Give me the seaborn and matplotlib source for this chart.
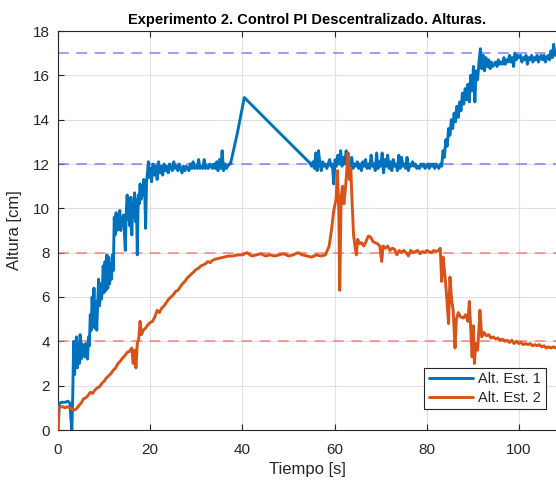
import matplotlib
matplotlib.use("Agg")
import matplotlib.pyplot as plt
import seaborn as sns
import pandas as pd

# ---------------- data ----------------
t1 = [0, 0.3, 0.8, 1.5, 2.2, 2.6, 2.8, 3.0, 3.2, 3.4, 3.6, 3.8, 4.0, 4.2, 4.4, 4.6, 4.8, 5.0, 5.2, 5.4,
      5.6, 5.8, 6.0, 6.2, 6.4, 6.6, 6.8, 7.0, 7.2, 7.4, 7.6, 7.8, 8.0, 8.2, 8.4, 8.6, 8.8, 9.0, 9.2, 9.4,
      9.6, 9.8, 10.0, 10.2, 10.4, 10.6, 10.8, 11.0, 11.2, 11.4, 11.6, 11.8, 12.0, 12.2, 12.4, 12.6, 12.8,
      13.0, 13.2, 13.4, 13.6, 13.8, 14.0, 14.2, 14.4, 14.6, 14.8, 15.0, 15.2, 15.4, 15.6, 15.8, 16.0, 16.2,
      16.4, 16.6, 16.8, 17.0, 17.2, 17.4, 17.6, 17.8, 18.0, 18.2, 18.4, 18.6, 18.8, 19.0, 19.2, 19.4, 19.6,
      19.8, 20.0, 20.3, 20.6, 20.9, 21.2, 21.5, 21.8, 22.1, 22.4, 22.7, 23.0, 23.3, 23.6, 23.9, 24.2, 24.5,
      24.8, 25.1, 25.4, 25.7, 26.0, 26.3, 26.6, 26.9, 27.2, 27.5, 27.8, 28.1, 28.4, 28.7, 29.0, 29.3, 29.6,
      29.9, 30.2, 30.5, 30.8, 31.1, 31.4, 31.7, 32.0, 32.3, 32.6, 32.9, 33.2, 33.5, 33.8, 34.1, 34.4, 34.7,
      35.0, 35.3, 35.6, 35.9, 36.2, 36.5, 36.8, 37.1, 37.4, 38.9, 40.4, 47.5, 54.6,
      55.0, 55.3, 55.6, 55.9, 56.2, 56.5, 56.8, 57.1, 57.4, 57.7, 58.0, 58.3,
      58.6, 58.9, 59.2, 59.5, 59.8, 60.1, 60.4, 60.7, 61.0, 61.3, 61.6, 61.9, 62.2, 62.5, 62.8, 63.1, 63.4,
      63.7, 64.0, 64.3, 64.6, 64.9, 65.2, 65.5, 65.8, 66.1, 66.4, 66.7, 67.0, 67.3, 67.6, 67.9, 68.2, 68.5,
      68.8, 69.1, 69.4, 69.7, 70.0, 70.3, 70.6, 70.9, 71.2, 71.5, 71.8, 72.1, 72.4, 72.7, 73.0, 73.3, 73.6,
      73.9, 74.2, 74.5, 74.8, 75.1, 75.4, 75.7, 76.0, 76.3, 76.6, 76.9, 77.2, 77.5, 77.8, 78.1, 78.4, 78.7,
      79.0, 79.3, 79.6, 79.9, 80.2, 80.5, 80.8, 81.1, 81.4, 81.7, 82.0, 82.3, 82.6, 82.9, 83.2, 83.5, 83.8,
      84.1, 84.4, 84.7, 85.0, 85.3, 85.6, 85.9, 86.2, 86.5, 86.8, 87.1, 87.4, 87.7, 88.0, 88.3, 88.6, 88.9,
      89.2, 89.5, 89.8, 90.1, 90.4, 90.7, 91.0, 91.3, 91.6, 91.9, 92.2, 92.5, 92.8, 93.1, 93.4, 93.7, 94.0,
      94.3, 94.6, 94.9, 95.2, 95.5, 95.8, 96.1, 96.4, 96.7, 97.0, 97.3, 97.6, 97.9, 98.2, 98.5, 98.8, 99.1,
      99.4, 99.7, 100.0, 100.3, 100.6, 100.9, 101.2, 101.5, 101.8, 102.1, 102.4, 102.7, 103.0, 103.3, 103.6,
      103.9, 104.2, 104.5, 104.8, 105.1, 105.4, 105.7, 106.0, 106.3, 106.6, 106.9, 107.2, 107.5, 107.8, 108.1]
h1 = [0, 1.2, 1.25, 1.25, 1.3, 1.2, 0.5, 0.0, 1.6, 4.0, 2.5, 3.6, 4.2, 2.8, 3.9, 3.0, 4.3, 3.2, 3.9, 3.4,
      3.7, 3.3, 3.9, 3.4, 3.2, 4.2, 3.8, 5.2, 4.5, 6.0, 5.0, 6.4, 4.6, 5.8, 4.5, 5.6, 6.8, 5.6, 6.6, 5.9,
      6.2, 7.4, 6.2, 7.6, 6.3, 7.9, 6.4, 7.8, 6.6, 7.5, 6.8, 7.9, 7.2, 9.6, 8.8, 9.8, 9.0,
      9.5, 9.2, 9.9, 9.0, 9.6, 9.3, 9.7, 8.9, 8.1, 9.8, 10.6, 9.5, 10.3, 9.2, 10.5, 8.8, 10.2,
      9.6, 10.7, 9.4, 10.4, 7.9, 10.6, 10.2, 11.1, 10.4, 10.9, 10.6, 11.3, 10.8, 9.1, 11.2, 11.6, 12.1,
      11.4, 11.8, 11.2, 12.0, 11.5, 11.9, 11.3, 12.1, 11.6, 11.9, 11.5, 12.0, 11.7, 11.9, 11.6, 12.0, 11.8,
      11.7, 12.1, 11.8, 11.9, 11.7, 12.0, 11.8, 11.6, 11.9, 11.7, 11.9, 11.8, 11.7, 12.0, 11.8, 12.1, 11.8,
      11.9, 11.8, 12.2, 11.8, 11.9, 11.8, 12.2, 11.8, 11.9, 11.8, 12.0, 11.9, 11.8, 12.0, 11.8, 12.1, 11.7,
      12.2, 11.8, 12.6, 11.7, 12.0, 11.8, 11.9, 12.0, 12.0, 13.4, 15.0, 13.52, 12.05,
      11.9, 12.1, 11.8, 12.5, 11.7, 12.6, 12.0, 11.7, 12.1, 11.9, 12.0, 11.8,
      12.0, 12.2, 11.9, 12.0, 11.1, 12.2, 11.9, 12.4, 12.0, 12.6, 11.9, 12.3, 12.0, 12.6, 11.8, 12.1, 11.9,
      12.3, 11.8, 12.0, 11.9, 12.1, 11.8, 12.0, 11.7, 12.1, 11.9, 12.2, 11.8, 12.0, 11.8, 12.4, 11.9, 12.0,
      11.7, 12.5, 11.8, 12.1, 11.9, 12.5, 11.6, 12.2, 11.9, 12.4, 11.8, 12.1, 11.7, 12.2, 11.9, 12.0, 11.7,
      12.4, 11.8, 12.3, 11.9, 12.0, 11.8, 12.3, 11.7, 12.0, 11.9, 12.1, 11.9, 12.0, 11.8, 11.9, 11.8, 12.0,
      11.9, 12.0, 11.8, 11.9, 12.0, 11.8, 12.0, 11.9, 12.0, 11.8, 12.0, 11.9, 11.8, 12.0, 11.9, 12.6, 12.3,
      13.1, 12.8, 13.6, 13.3, 14.0, 13.6, 14.3, 13.9, 14.6, 14.1, 14.8, 14.4, 15.2, 14.7, 15.4, 14.9, 15.6,
      14.8, 16.0, 15.3, 16.4, 14.8, 16.2, 15.8, 16.6, 17.2, 16.3, 16.9, 16.2, 16.8, 16.4, 16.7, 16.3, 16.6,
      16.4, 16.5, 16.6, 16.4, 16.7, 16.5, 16.6, 16.5, 16.8, 16.5, 16.7, 16.6, 16.9, 16.6, 16.8, 16.4, 17.0,
      16.7, 16.9, 16.8, 16.9, 16.6, 16.8, 16.7, 16.9, 16.5, 16.8, 16.7, 16.9, 16.6, 16.8, 16.7,
      16.9, 16.6, 16.8, 16.9, 16.7, 16.9, 16.6, 16.8, 16.9, 16.7, 17.1, 16.8, 17.4, 16.9, 17.0]

t2 = [0, 0.2, 0.5, 1.0, 1.5, 2.0, 2.5, 3.0, 3.5, 4.0, 4.5, 5.0, 5.5, 6.0, 6.5, 7.0, 7.5, 8.0, 8.5, 9.0,
      9.5, 10.0, 10.5, 11.0, 11.5, 12.0, 12.5, 13.0, 13.5, 14.0, 14.5, 15.0, 15.5, 16.0, 16.3, 16.6, 16.9,
      17.2, 17.5, 17.8, 18.1, 18.5, 19.0, 19.5, 20.0, 20.5, 21.0, 21.5, 22.0, 22.5, 23.0, 23.5, 24.0, 24.5,
      25.0, 25.5, 26.0, 26.5, 27.0, 27.5, 28.0, 28.5, 29.0, 29.5, 30.0, 30.5, 31.0, 31.5, 32.0, 32.5, 33.0,
      33.5, 34.0, 35.0, 36.0, 37.0, 38.0, 39.0, 40.0, 41.0, 42.0, 43.0, 44.0, 45.0, 46.0, 47.0, 48.0, 49.0,
      50.0, 51.0, 52.0, 53.0, 54.0, 55.0, 56.0, 57.0, 58.0, 58.8, 59.3, 59.8, 60.3, 60.6, 60.9, 61.1, 61.4,
      61.7, 62.0, 62.3, 62.6, 62.9, 63.2, 63.5, 63.8, 64.1, 64.4, 64.7, 65.0, 65.4, 65.8, 66.3, 66.8, 67.3,
      67.8, 68.3, 68.8, 69.3, 69.8, 70.2, 70.5, 71.0, 71.5, 72.0, 72.5, 73.0, 73.5, 74.0, 74.5, 75.0, 75.5,
      76.0, 76.5, 77.0, 77.5, 78.0, 78.5, 79.0, 79.5, 80.0, 80.5, 81.0, 81.5, 82.0, 82.5, 82.9, 83.2, 83.5,
      83.9, 84.3, 84.7, 85.0, 85.4, 85.7, 86.1, 86.4, 86.8, 87.3, 87.9, 88.4, 88.9, 89.2, 89.5, 89.8, 90.1,
      90.3, 90.6, 91.0, 91.3, 91.5, 91.9, 92.4, 92.9, 93.4, 93.9, 94.4, 94.9, 95.4, 95.9, 96.4, 96.9, 97.4,
      97.9, 98.4, 98.9, 99.4, 99.9, 100.4, 100.9, 101.4, 101.9, 102.4, 102.9, 103.4, 103.9, 104.4, 104.9,
      105.4, 105.9, 106.4, 106.9, 107.4, 108.0]
h2 = [0, 1.0, 1.05, 1.05, 1.0, 1.05, 1.0, 0.95, 0.9, 0.95, 1.1, 1.2, 1.4, 1.45, 1.55, 1.7, 1.65, 1.8, 1.9, 1.95,
      2.1, 2.2, 2.35, 2.45, 2.55, 2.7, 2.8, 3.0, 3.1, 3.25, 3.35, 3.5, 3.55, 3.7, 3.0, 3.6, 2.8,
      3.9, 4.1, 4.9, 4.3, 4.5, 4.6, 4.75, 4.85, 4.9, 5.1, 5.4, 5.3, 5.5, 5.6, 5.75, 5.9, 6.0,
      6.1, 6.25, 6.3, 6.45, 6.6, 6.7, 6.85, 6.95, 7.05, 7.15, 7.25, 7.3, 7.4, 7.45, 7.5, 7.6, 7.55,
      7.65, 7.7, 7.75, 7.8, 7.85, 7.85, 7.9, 7.9, 8.0, 7.85, 7.9, 7.95, 7.85, 7.9, 7.85, 7.9, 7.95,
      7.85, 7.9, 8.0, 7.9, 7.85, 7.8, 7.9, 7.85, 7.9, 8.3, 9.0, 9.9, 10.4, 11.7, 9.8, 6.3, 10.5,
      11.0, 10.2, 10.8, 11.6, 12.5, 11.3, 11.8, 10.2, 8.8, 8.3, 7.9, 8.6, 8.4, 8.45, 8.3, 8.5, 8.75,
      8.7, 8.5, 8.45, 8.4, 8.3, 7.6, 8.3, 8.2, 8.3, 8.1, 8.2, 8.15, 7.9, 8.1, 8.0, 8.1, 8.0,
      7.85, 8.1, 8.0, 8.05, 8.1, 7.95, 8.05, 8.0, 8.1, 8.05, 8.0, 8.1, 8.05, 8.1, 8.2, 6.7, 7.8,
      7.0, 6.0, 4.8, 6.9, 5.8, 5.4, 3.7, 5.0, 5.3, 5.1, 5.05, 5.2, 4.9, 5.8, 4.6, 3.3, 4.7,
      3.0, 3.9, 3.6, 4.6, 5.4, 4.2, 4.4, 4.25, 4.3, 4.15, 4.2, 4.1, 4.15, 4.05, 4.1, 4.0, 4.05,
      3.95, 4.05, 3.9, 4.0, 3.9, 3.95, 3.85, 3.9, 3.85, 3.9, 3.8, 3.85, 3.8, 3.85, 3.75,
      3.8, 3.7, 3.75, 3.7, 3.75, 3.7]

series_names = ["Alt. Est. 1", "Alt. Est. 2"]
ref_levels_1 = [17, 12]
ref_levels_2 = [8, 4]
title = "Experimento 2. Control PI Descentralizado. Alturas."
xlabel = "Tiempo [s]"
ylabel = "Altura [cm]"
xticks = [0, 20, 40, 60, 80, 100]
yticks = [0, 2, 4, 6, 8, 10, 12, 14, 16, 18]

# ---------------- style ----------------
sns.set_style("white")
plt.rcParams["font.family"] = ["Liberation Sans", "DejaVu Sans"]

C_BLUE = "#0072BD"
C_ORANGE = "#D95319"
AX_COL = "#262626"

fig = plt.figure(figsize=(5.56, 4.80), dpi=100)
ax = fig.add_axes([58 / 556, 1 - 430 / 480, 1 - 58 / 556, (430 - 31) / 480])

df1 = pd.DataFrame({"t": t1, "h": h1})
df2 = pd.DataFrame({"t": t2, "h": h2})

for lvl in ref_levels_1:
    ax.axhline(lvl, color=(0.45, 0.45, 1.0), lw=1.1, ls=(0, (7, 5)), alpha=0.9, zorder=1)
for lvl in ref_levels_2:
    ax.axhline(lvl, color=(1.0, 0.45, 0.45), lw=1.1, ls=(0, (7, 5)), alpha=0.9, zorder=1)

sns.lineplot(data=df1, x="t", y="h", ax=ax, color=C_BLUE, lw=2.1, sort=False,
             estimator=None, label=series_names[0], zorder=3)
sns.lineplot(data=df2, x="t", y="h", ax=ax, color=C_ORANGE, lw=2.1, sort=False,
             estimator=None, label=series_names[1], zorder=3)

ax.set_xlim(0, 108)
ax.set_ylim(0, 18)
ax.set_xticks(xticks)
ax.set_yticks(yticks)
ax.grid(True, color="#e0e0e0", lw=0.8)
ax.set_axisbelow(True)

for side in ["left", "bottom", "top"]:
    ax.spines[side].set_color(AX_COL)
    ax.spines[side].set_linewidth(0.8)
ax.spines["right"].set_visible(False)
ax.tick_params(direction="in", length=4, width=0.8, colors=AX_COL, labelsize=11,
               top=True, right=False, left=True, bottom=True)
ax.tick_params(axis="x", pad=9)
ax.tick_params(axis="y", pad=6)

ax.set_title(title, fontsize=10.5, fontweight="bold", color="black", pad=5)
ax.set_xlabel(xlabel, fontsize=12, color=AX_COL, labelpad=4)
ax.set_ylabel(ylabel, fontsize=12, color=AX_COL, labelpad=8)

leg = ax.legend(loc="lower right", bbox_to_anchor=(0.985, 0.045), fontsize=10.5,
                frameon=True, fancybox=False, framealpha=1, edgecolor=AX_COL,
                handlelength=3.0, borderpad=0.3, labelspacing=0.3, handletextpad=0.4,
                borderaxespad=0.2)
leg.get_frame().set_linewidth(0.8)

fig.savefig("out.png", dpi=100)
